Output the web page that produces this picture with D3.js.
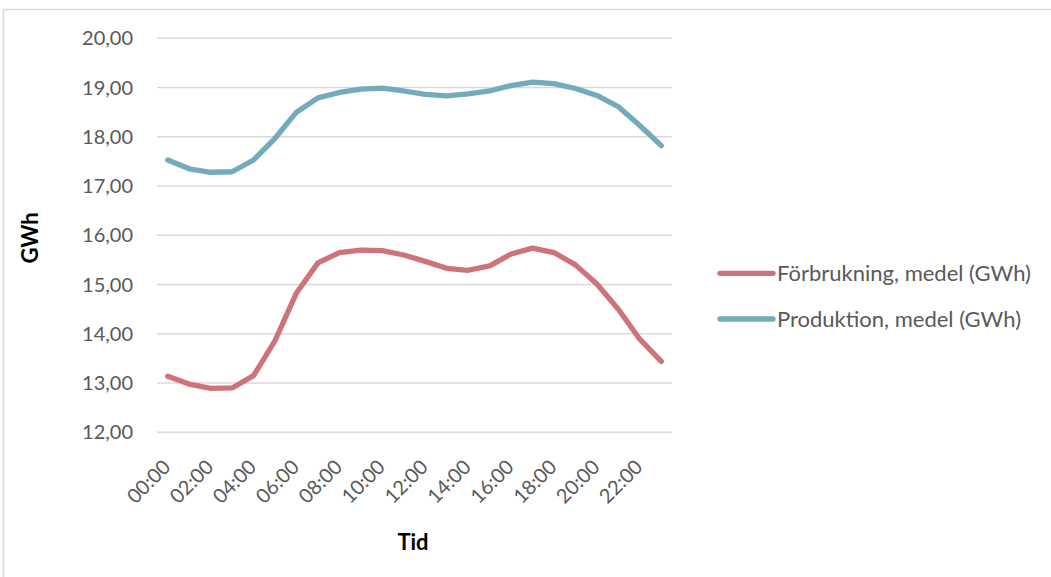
<!DOCTYPE html>
<html>
<head>
<meta charset="utf-8">
<script src="https://cdn.jsdelivr.net/npm/d3@7"></script>
<style>
  html, body { margin: 0; padding: 0; background: #fff; }
  svg { display: block; font-family: Lato, "Open Sans", sans-serif; }
</style>
</head>
<body>
<svg id="chart" width="1051" height="577"></svg>
<script>
// Hourly averages over the day
const hours = ["00:00","01:00","02:00","03:00","04:00","05:00","06:00","07:00",
               "08:00","09:00","10:00","11:00","12:00","13:00","14:00","15:00",
               "16:00","17:00","18:00","19:00","20:00","21:00","22:00","23:00"];
const forbrukning = [13.14, 12.98, 12.89, 12.90, 13.15, 13.86, 14.83, 15.44,
                     15.65, 15.70, 15.69, 15.60, 15.47, 15.33, 15.29, 15.38,
                     15.62, 15.74, 15.65, 15.40, 15.01, 14.50, 13.89, 13.44];
const produktion  = [17.53, 17.35, 17.28, 17.29, 17.53, 17.97, 18.50, 18.79,
                     18.90, 18.97, 18.99, 18.93, 18.86, 18.83, 18.87, 18.93,
                     19.04, 19.11, 19.08, 18.98, 18.84, 18.61, 18.23, 17.82];
const yTicks = [12, 13, 14, 15, 16, 17, 18, 19, 20];
const xLabelHours = hours.filter((h, i) => i % 2 === 0);

const seriesNames = ["Förbrukning, medel (GWh)", "Produktion, medel (GWh)"];
const seriesColors = ["#CD7379", "#73AABC"];
const seriesData = [forbrukning, produktion];

const svg = d3.select("#chart");

// outer chart frame
svg.append("rect")
  .attr("x", 3.5).attr("y", 9.5)
  .attr("width", 1200).attr("height", 700)
  .attr("fill", "none").attr("stroke", "#d9d9d9").attr("stroke-width", 1.5);

const plot = { left: 157, right: 672, top: 38.3, bottom: 432.3 };

const x = d3.scaleBand().domain(hours).range([plot.left, plot.right]).paddingInner(0).paddingOuter(0);
const xc = h => x(h) + x.bandwidth() / 2;
const y = d3.scaleLinear().domain([12, 20]).range([plot.bottom, plot.top]);

// horizontal gridlines
svg.append("g").selectAll("line").data(yTicks).join("line")
  .attr("x1", plot.left).attr("x2", plot.right)
  .attr("y1", d => y(d)).attr("y2", d => y(d))
  .attr("stroke", "#d9d9d9").attr("stroke-width", 1.5);

// y tick labels
const fmt = v => d3.format(".2f")(v).replace(".", ",");
svg.append("g").selectAll("text").data(yTicks).join("text")
  .attr("x", 133).attr("y", d => y(d)).attr("dy", "0.35em")
  .attr("text-anchor", "end")
  .attr("font-size", 20).attr("fill", "#595959")
  .text(fmt);

// x tick labels, rotated
svg.append("g").selectAll("text").data(xLabelHours).join("text")
  .attr("transform", d => `translate(${xc(d) + 4},${plot.bottom + 36}) rotate(-45)`)
  .attr("text-anchor", "end")
  .attr("font-size", 20).attr("fill", "#595959")
  .text(d => d);

// axis titles
svg.append("text")
  .attr("x", 413).attr("y", 542).attr("dy", "0.35em")
  .attr("text-anchor", "middle")
  .attr("font-size", 22).attr("font-weight", "bold").attr("fill", "#000")
  .text("Tid");
svg.append("text")
  .attr("transform", "translate(30,238) rotate(-90)")
  .attr("dy", "0.35em")
  .attr("text-anchor", "middle")
  .attr("font-size", 22).attr("font-weight", "bold").attr("fill", "#000")
  .text("GWh");

// series lines
const line = d3.line().x((d, i) => xc(hours[i])).y(d => y(d));
svg.append("g").selectAll("path").data(seriesData).join("path")
  .attr("d", d => line(d))
  .attr("fill", "none")
  .attr("stroke", (d, i) => seriesColors[i])
  .attr("stroke-width", 5.3)
  .attr("stroke-linejoin", "round")
  .attr("stroke-linecap", "round");

// legend
const legend = svg.append("g").selectAll("g").data(seriesNames).join("g")
  .attr("transform", (d, i) => `translate(718,${273.3 + i * 45.7})`);
legend.append("line")
  .attr("x1", 2).attr("x2", 55).attr("y1", 0).attr("y2", 0)
  .attr("stroke", (d, i) => seriesColors[i])
  .attr("stroke-width", 5.3).attr("stroke-linecap", "round");
legend.append("text")
  .attr("x", 59).attr("y", 0).attr("dy", "0.35em")
  .attr("font-size", 22).attr("fill", "#595959")
  .text(d => d);
</script>
</body>
</html>
